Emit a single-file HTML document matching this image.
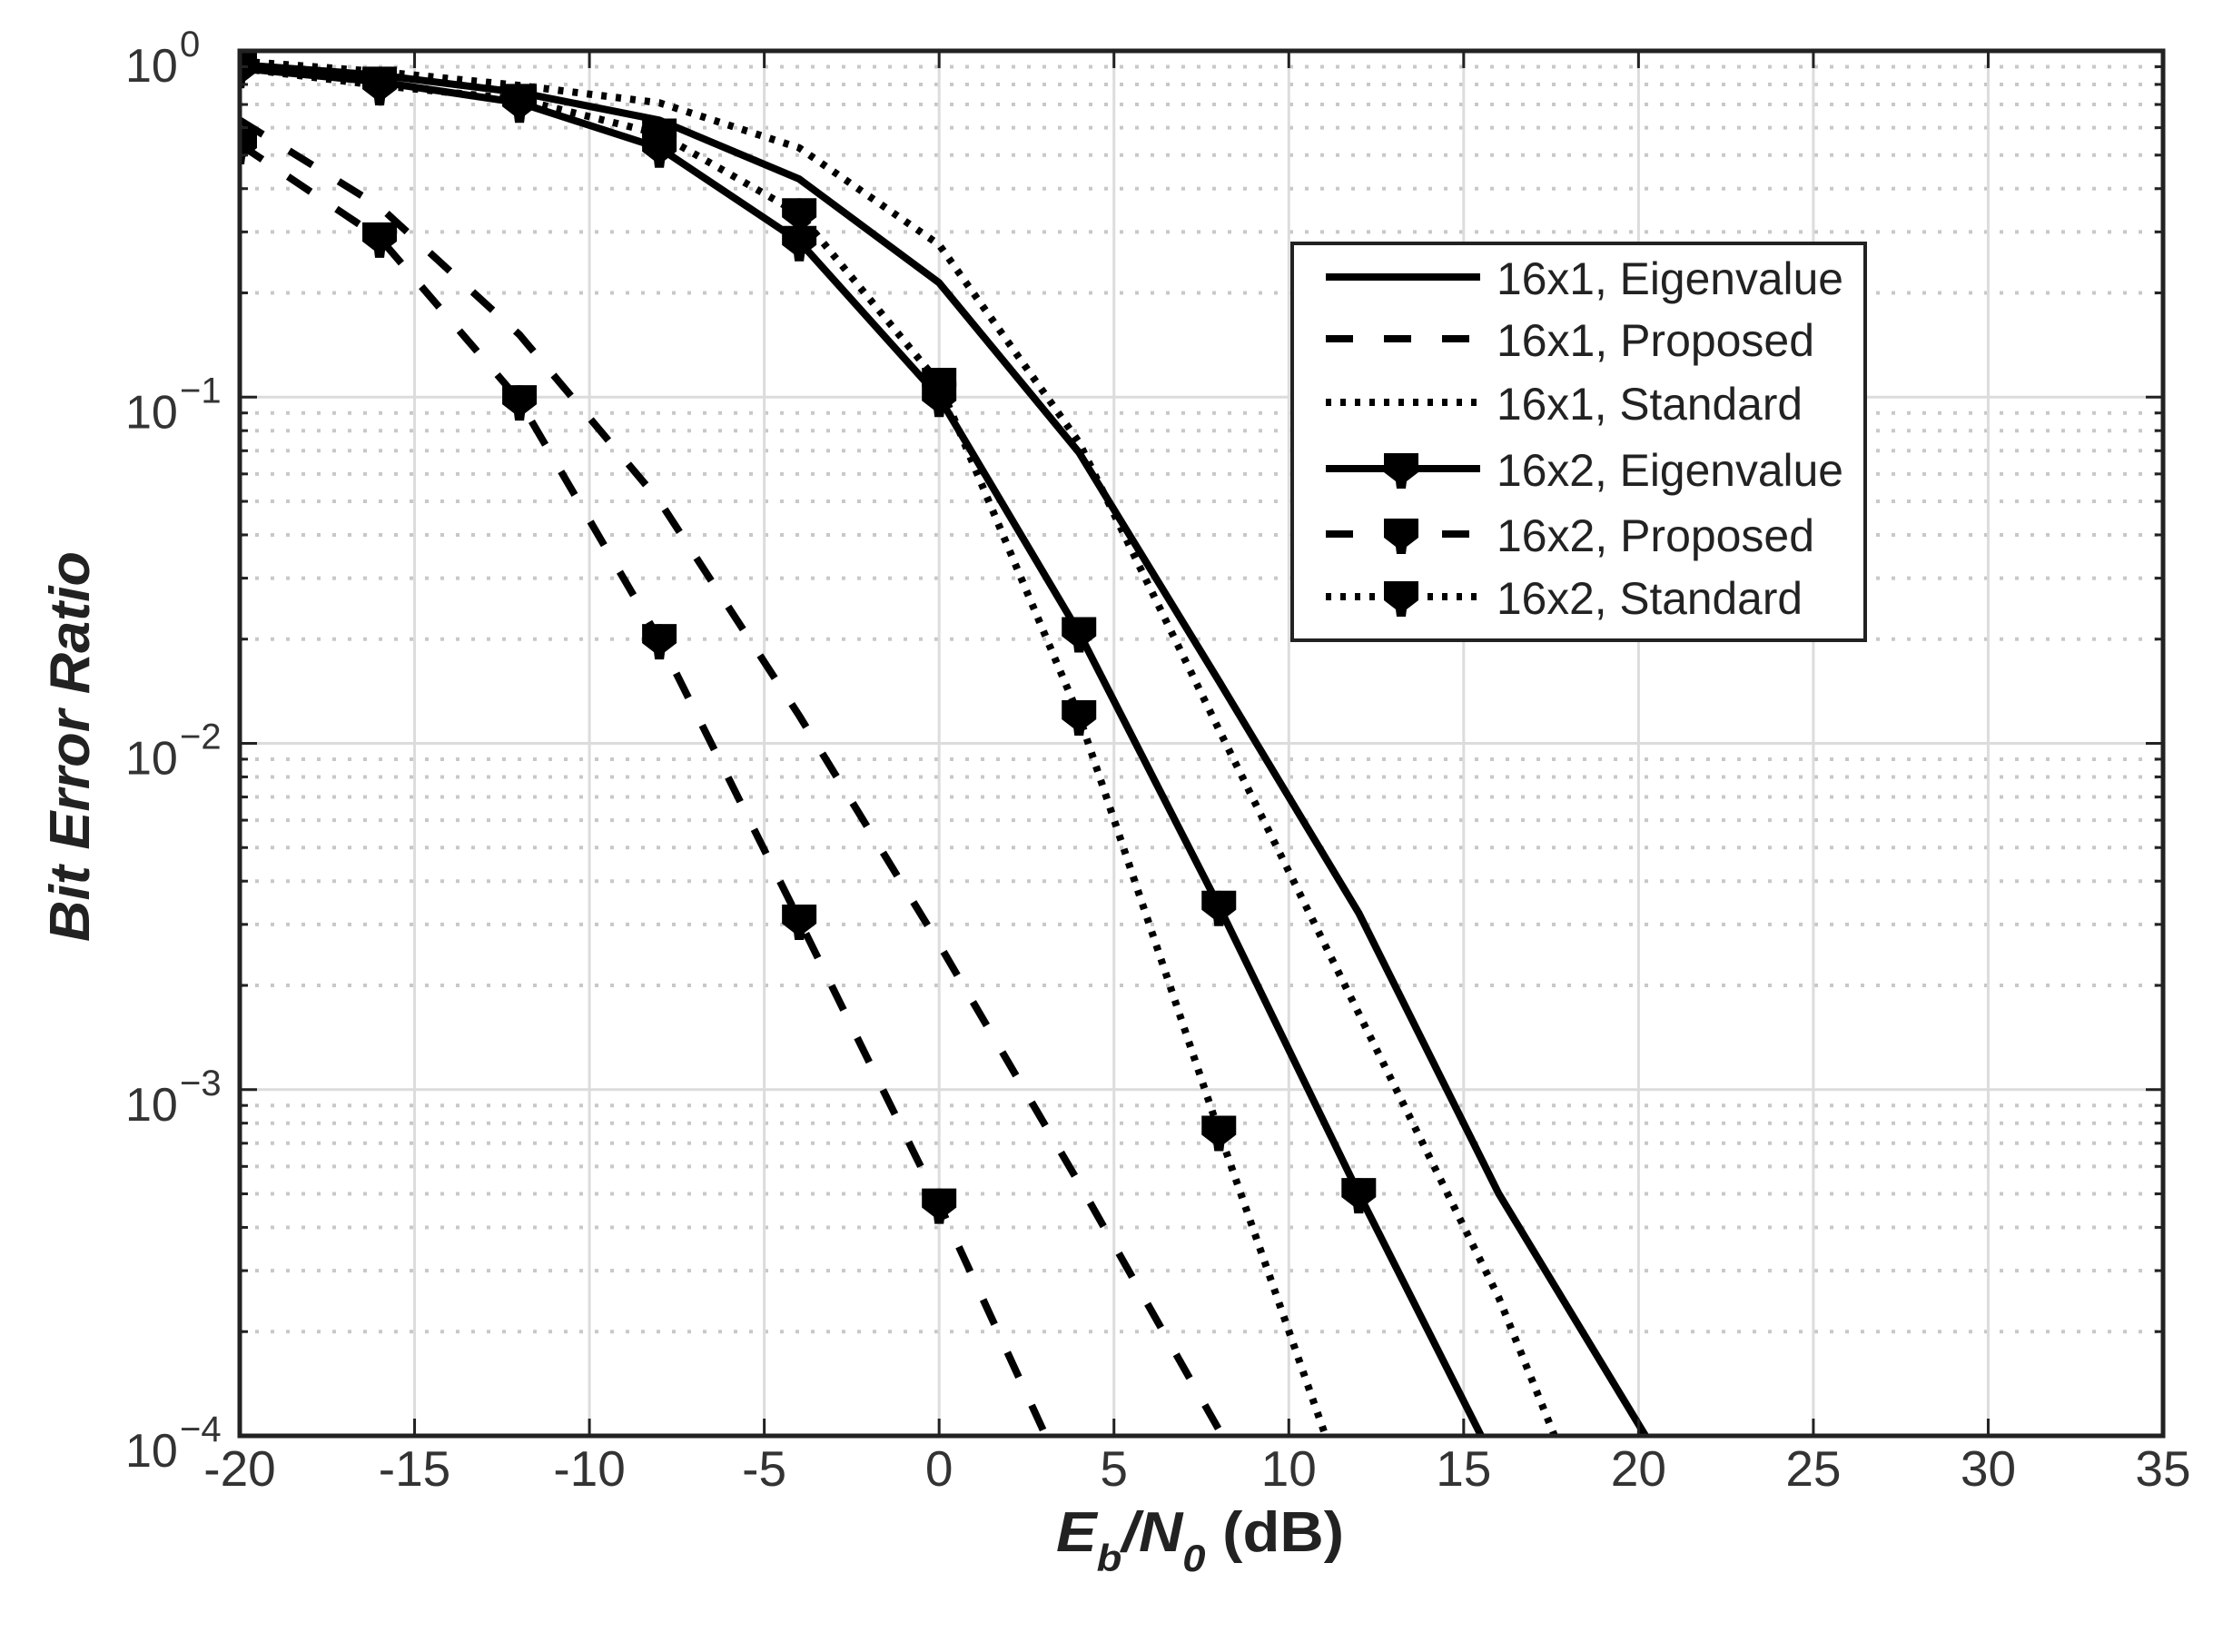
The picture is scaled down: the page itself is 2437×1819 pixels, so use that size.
<!DOCTYPE html>
<html><head><meta charset="utf-8">
<style>
html,body{margin:0;padding:0;background:#fff;}
svg{display:block;}
text{font-family:"Liberation Sans",Arial,sans-serif;}
</style></head>
<body>
<svg id="s" width="2437" height="1819" viewBox="0 0 2437 1819" xmlns="http://www.w3.org/2000/svg">
<defs><clipPath id="cp"><rect x="264" y="56" width="2118" height="1525"/></clipPath></defs>
<rect width="2437" height="1819" fill="#fff"/>
<g id="grid"></g>
<g id="curves" clip-path="url(#cp)"></g>
<g id="axes"></g>
<g id="legend"></g>
<text x="1163" y="1708" font-size="62" font-weight="bold" font-style="italic" fill="#222" textLength="317" lengthAdjust="spacingAndGlyphs">E<tspan font-size="42" dy="22">b</tspan><tspan dy="-22">/N</tspan><tspan font-size="42" dy="22">0</tspan><tspan dy="-22" font-style="normal"> (dB)</tspan></text>
<text transform="translate(98,822) rotate(-90)" text-anchor="middle" font-size="62" font-weight="bold" font-style="italic" fill="#222" textLength="430" lengthAdjust="spacingAndGlyphs">Bit Error Ratio</text>
</svg>
<script>
var NS="http://www.w3.org/2000/svg";
function el(p,t,a,txt){var e=document.createElementNS(NS,t);for(var k in a)e.setAttribute(k,a[k]);if(txt!=null)e.textContent=txt;p.appendChild(e);return e;}
var L=264,R=2382,T=56,B=1581;
function X(d){return L+(d+20)*(R-L)/55;}
function Y(l){return T+(-l)*(B-T)/4;}
var g=document.getElementById('grid'),ax=document.getElementById('axes');
for(var dec=0;dec<4;dec++){for(var m=2;m<=9;m++){var y=Y(-dec-1+Math.log10(m));
 el(g,'line',{x1:L,x2:R,y1:y,y2:y,stroke:'#c8c8c8','stroke-width':4,'stroke-dasharray':'4 13'});
 el(ax,'line',{x1:L,x2:L+9,y1:y,y2:y,stroke:'#222','stroke-width':3});
 el(ax,'line',{x1:R-9,x2:R,y1:y,y2:y,stroke:'#222','stroke-width':3});}}
for(var i=0;i<=4;i++){var y=Y(-i);
 el(g,'line',{x1:L,x2:R,y1:y,y2:y,stroke:'#dcdcdc','stroke-width':3});
 el(ax,'line',{x1:L,x2:L+19,y1:y,y2:y,stroke:'#222','stroke-width':3});
 el(ax,'line',{x1:R-19,x2:R,y1:y,y2:y,stroke:'#222','stroke-width':3});
 el(ax,'text',{x:138,y:y+34,'font-size':52,fill:'#333'},'10');
 el(ax,'text',{x:198,y:y+6,'font-size':40,fill:'#333'},i==0?'0':'\u2212'+i);
}
for(var d=-20;d<=35;d+=5){var x=X(d);
 el(g,'line',{x1:x,x2:x,y1:T,y2:B,stroke:'#dcdcdc','stroke-width':3});
 el(ax,'line',{x1:x,x2:x,y1:B-19,y2:B,stroke:'#222','stroke-width':3});
 el(ax,'line',{x1:x,x2:x,y1:T,y2:T+19,stroke:'#222','stroke-width':3});
 el(ax,'text',{x:x,y:1636,'font-size':55,fill:'#333','text-anchor':'middle'},d<0?'-'+(-d):''+d);
}
el(ax,'rect',{x:L,y:T,width:R-L,height:B-T,fill:'none',stroke:'#222','stroke-width':5});
var series=[
 {d:[[-20,-0.04],[-16,-0.07],[-12,-0.12],[-8,-0.2],[-4,-0.37],[0,-0.67],[4,-1.16],[8,-1.82],[12,-2.49],[16,-3.3],[20.2,-4],[21,-4.15]],dash:null,mk:false},
 {d:[[-20,-0.2],[-16,-0.45],[-12,-0.82],[-8,-1.3],[-4,-1.92],[0,-2.58],[4,-3.27],[8.1,-4],[8.6,-4.1]],dash:'30 34',mk:false},
 {d:[[-20,-0.03],[-16,-0.06],[-12,-0.1],[-8,-0.15],[-4,-0.28],[0,-0.56],[4,-1.13],[8,-1.96],[12,-2.78],[16,-3.6],[17.6,-4],[18,-4.1]],dash:'6 10',mk:false},
 {d:[[-20,-0.05],[-16,-0.09],[-12,-0.15],[-8,-0.28],[-4,-0.55],[0,-1.0],[4,-1.68],[8,-2.47],[12,-3.3],[15.5,-4],[16,-4.1]],dash:null,mk:true},
 {d:[[-20,-0.27],[-16,-0.54],[-12,-1.01],[-8,-1.7],[-4,-2.51],[0,-3.33],[3.05,-4],[3.5,-4.1]],dash:'30 34',mk:true},
 {d:[[-20,-0.05],[-16,-0.1],[-12,-0.14],[-8,-0.24],[-4,-0.47],[0,-0.96],[4,-1.92],[8,-3.12],[11.05,-4],[11.4,-4.1]],dash:'6 10',mk:true}
];
var c=document.getElementById('curves');
function marker(p,x,y){
 el(p,'path',{d:'M'+(x-19)+','+(y-17)+' L'+(x+19)+','+(y-17)+' L'+(x+19)+','+(y+4)+' L'+(x+6)+','+(y+14)+' L'+(x+5)+','+(y+22)+' L'+(x-5)+','+(y+22)+' L'+(x-6)+','+(y+14)+' L'+(x-19)+','+(y+4)+'Z',fill:'#000'});
 el(p,'circle',{cx:x,cy:y-2,r:15,fill:'#000'});
}
series.forEach(function(s){
 var pts=s.d.map(function(p){return X(p[0]).toFixed(1)+','+Y(p[1]).toFixed(1);}).join(' ');
 var a={points:pts,fill:'none',stroke:'#000','stroke-width':8,'stroke-linejoin':'round'};
 if(s.dash)a['stroke-dasharray']=s.dash;
 el(c,'polyline',a);
 if(s.mk)s.d.forEach(function(p){if(Number.isInteger(p[0])&&(p[0]+20)%4==0&&p[1]>=-4)marker(c,X(p[0]),Y(p[1]));});
});
var lg=document.getElementById('legend');
el(lg,'rect',{x:1423,y:268,width:631,height:437,fill:'#fff',stroke:'#222','stroke-width':4});
var names=['16x1, Eigenvalue','16x1, Proposed','16x1, Standard','16x2, Eigenvalue','16x2, Proposed','16x2, Standard'];
var ys=[305,373,443,516,588,657];
for(var i=0;i<6;i++){var s=series[i],y=ys[i];
 var a={x1:1460,x2:1630,y1:y,y2:y,stroke:'#000','stroke-width':8};
 if(s.dash)a['stroke-dasharray']=s.dash;
 el(lg,'line',a);
 if(s.mk)marker(lg,1543,y);
 el(lg,'text',{x:1648,y:y+19,'font-size':50,fill:'#222',textLength:(i==0||i==3)?382:(i==1||i==4)?350:337,lengthAdjust:'spacingAndGlyphs'},names[i]);
}
</script>
</body></html>
